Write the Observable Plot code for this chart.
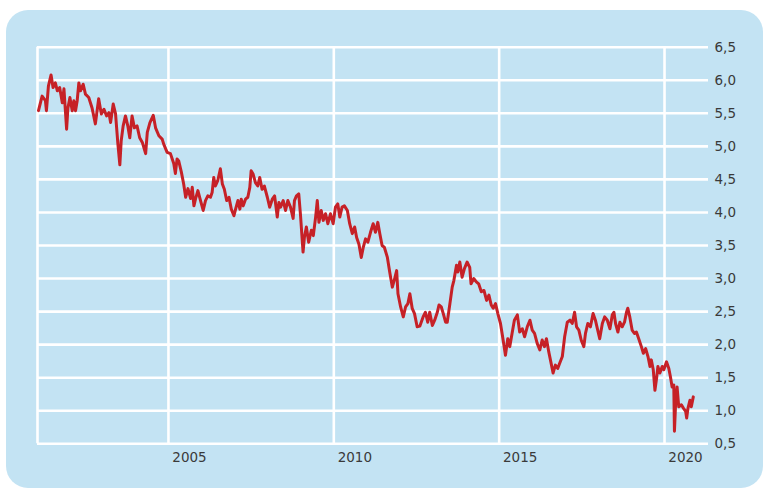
<!DOCTYPE html>
<html>
<head>
<meta charset="utf-8">
<script src="https://cdn.jsdelivr.net/npm/d3@7"></script>
<script src="https://cdn.jsdelivr.net/npm/@observablehq/plot@0.6"></script>
<style>
  html, body { margin: 0; padding: 0; background: #ffffff; }
  #wrap { position: relative; width: 764px; height: 489px; overflow: hidden; }
  #bg { position: absolute; left: 6px; top: 10px; width: 757px; height: 478px; border-radius: 22px; background: #c3e3f3; }
  #chart { position: absolute; left: 0; top: 0; }
</style>
</head>
<body>
<div id="wrap"><div id="bg"></div><div id="chart"></div></div>
<script>
const years = [
2001.07,2001.18,2001.28,2001.31,2001.37,2001.45,2001.51,2001.58,2001.64,2001.71,2001.79,2001.84,2001.92,2001.96,
2002.02,2002.09,2002.14,2002.19,2002.24,2002.29,2002.34,2002.42,2002.49,2002.59,2002.69,2002.79,2002.89,2002.97,
2003.05,2003.13,2003.20,2003.25,2003.33,2003.40,2003.47,2003.53,2003.57,2003.63,2003.70,2003.77,2003.83,2003.90,2003.97,
2004.05,2004.13,2004.21,2004.31,2004.36,2004.44,2004.54,2004.61,2004.71,2004.81,2004.86,2004.96,
2005.06,2005.16,2005.21,2005.26,2005.31,2005.39,2005.46,2005.52,2005.59,2005.67,2005.72,2005.77,2005.82,2005.89,2005.97,
2006.05,2006.12,2006.19,2006.27,2006.32,2006.37,2006.42,2006.49,2006.57,2006.63,2006.69,2006.76,2006.83,2006.90,2006.98,
2007.03,2007.10,2007.16,2007.20,2007.26,2007.33,2007.40,2007.46,2007.50,2007.56,2007.63,2007.70,2007.76,2007.83,2007.90,2007.99,
2008.06,2008.14,2008.21,2008.29,2008.34,2008.39,2008.47,2008.54,2008.61,2008.69,2008.77,2008.81,2008.87,2008.94,2008.99,
2009.07,2009.11,2009.17,2009.24,2009.32,2009.38,2009.45,2009.50,2009.55,2009.62,2009.68,2009.75,2009.82,2009.90,2009.98,
2010.05,2010.12,2010.18,2010.25,2010.32,2010.41,2010.48,2010.56,2010.63,2010.69,2010.76,2010.83,2010.89,2010.96,
2011.03,2011.11,2011.19,2011.26,2011.33,2011.39,2011.46,2011.53,2011.62,2011.69,2011.77,2011.84,2011.90,2011.94,
2012.02,2012.10,2012.17,2012.24,2012.30,2012.37,2012.44,2012.52,2012.60,2012.70,2012.77,2012.84,2012.90,2012.98,
2013.05,2013.13,2013.18,2013.25,2013.31,2013.38,2013.43,2013.51,2013.58,2013.63,2013.71,2013.75,2013.81,2013.88,2013.95,
2014.03,2014.11,2014.15,2014.23,2014.31,2014.38,2014.46,2014.54,2014.62,2014.69,2014.76,2014.82,2014.89,2014.96,
2015.04,2015.12,2015.19,2015.26,2015.32,2015.39,2015.46,2015.55,2015.62,2015.70,2015.77,2015.85,2015.93,
2016.00,2016.07,2016.15,2016.23,2016.30,2016.37,2016.43,2016.50,2016.57,2016.63,2016.70,2016.77,2016.83,2016.91,2016.98,
2017.06,2017.14,2017.21,2017.28,2017.34,2017.41,2017.48,2017.56,2017.61,2017.68,2017.76,2017.84,2017.91,2017.98,
2018.04,2018.12,2018.19,2018.27,2018.35,2018.42,2018.47,2018.52,2018.59,2018.65,2018.72,2018.79,2018.85,2018.89,2018.95,
2019.02,2019.09,2019.15,2019.22,2019.30,2019.36,2019.43,2019.50,2019.56,2019.60,2019.66,2019.71,2019.76,2019.80,2019.86,2019.93,2019.98,
2020.06,2020.13,2020.18,2020.23,2020.28,2020.30,2020.34,2020.38,2020.43,2020.51,2020.57,2020.64,2020.67,2020.71,2020.77,2020.81,2020.87
];
const yields = [
5.54,5.76,5.69,5.54,5.91,6.08,5.89,5.96,5.84,5.89,5.66,5.87,5.26,5.58,
5.74,5.54,5.69,5.54,5.69,5.96,5.84,5.94,5.79,5.74,5.58,5.34,5.72,5.49,
5.56,5.46,5.51,5.36,5.64,5.49,5.04,4.72,5.08,5.31,5.46,5.31,5.13,5.46,5.28,
5.31,5.13,5.06,4.89,5.21,5.36,5.47,5.28,5.16,5.11,5.03,4.91,
4.89,4.74,4.59,4.81,4.78,4.61,4.43,4.23,4.36,4.21,4.38,4.10,4.21,4.33,4.18,
4.03,4.18,4.25,4.23,4.30,4.53,4.40,4.48,4.66,4.43,4.35,4.18,4.23,4.05,3.95,
4.05,4.18,4.05,4.20,4.10,4.20,4.23,4.38,4.63,4.58,4.45,4.40,4.53,4.35,4.40,4.23,
4.08,4.20,4.25,3.93,4.15,4.08,4.18,4.03,4.18,4.08,3.91,4.18,4.25,4.28,3.98,
3.40,3.62,3.78,3.55,3.73,3.65,3.93,4.18,3.85,4.03,3.88,3.98,3.83,3.98,3.83,
4.08,4.13,3.93,4.08,4.10,4.03,3.83,3.68,3.78,3.62,3.52,3.32,3.47,3.60,
3.55,3.70,3.83,3.70,3.85,3.68,3.50,3.47,3.32,3.10,2.87,3.00,3.12,2.77,
2.57,2.42,2.57,2.62,2.77,2.55,2.47,2.27,2.28,2.42,2.49,2.34,2.49,2.29,
2.37,2.49,2.60,2.57,2.47,2.34,2.34,2.62,2.87,2.97,3.20,3.10,3.25,3.02,3.15,
3.25,3.17,2.92,3.00,2.95,2.92,2.80,2.82,2.67,2.75,2.60,2.55,2.62,2.47,
2.32,2.07,1.84,2.09,1.97,2.17,2.37,2.45,2.19,2.24,2.12,2.27,2.37,
2.22,2.17,2.02,1.92,2.07,1.97,2.09,1.89,1.72,1.57,1.69,1.64,1.72,1.82,2.12,
2.34,2.37,2.32,2.49,2.27,2.22,2.07,1.97,2.17,2.32,2.27,2.47,2.37,2.22,
2.09,2.32,2.42,2.37,2.24,2.45,2.49,2.32,2.19,2.34,2.27,2.34,2.49,2.55,2.42,
2.22,2.17,2.19,2.09,1.97,1.87,1.94,1.82,1.67,1.77,1.62,1.31,1.49,1.67,1.57,1.67,1.62,
1.74,1.64,1.51,1.36,1.39,0.69,1.16,1.36,1.06,1.09,1.04,0.99,0.89,1.04,1.16,1.06,1.21
];
const yTicks = [0.5, 1.0, 1.5, 2.0, 2.5, 3.0, 3.5, 4.0, 4.5, 5.0, 5.5, 6.0, 6.5];
const xTicks = [2005, 2010, 2015, 2020];
const xStart = 2001.04, xEnd = 2021.33;

const data = years.map((t, i) => ({t, v: yields[i]}));

const chart = Plot.plot({
  width: 764,
  height: 489,
  marginLeft: 37,
  marginRight: 56,
  marginTop: 46.7,
  marginBottom: 45.7,
  style: {background: "transparent", fontFamily: "'DejaVu Sans', sans-serif", fontSize: "13.5px", color: "#3a3a3a"},
  x: {domain: [xStart, xEnd], label: null},
  y: {domain: [0.5, 6.5], label: null},
  marks: [
    Plot.ruleY(yTicks, {stroke: "#ffffff", strokeWidth: 2.6}),
    Plot.ruleX([xStart, ...xTicks], {stroke: "#ffffff", strokeWidth: 2.6}),
    Plot.line(data, {x: "t", y: "v", stroke: "#c62127", strokeWidth: 3, strokeLinejoin: "round"}),
    Plot.axisY({anchor: "right", ticks: yTicks, tickSize: 0, tickPadding: 6, label: null,
      tickFormat: d => d.toFixed(1).replace(".", ","), fill: "#3a3a3a"}),
    Plot.axisX({anchor: "bottom", ticks: xTicks, tickSize: 0, tickPadding: 9, dx: 21, label: null,
      tickFormat: d => String(d), fill: "#3a3a3a"})
  ]
});
document.getElementById("chart").appendChild(chart);
</script>
</body>
</html>
